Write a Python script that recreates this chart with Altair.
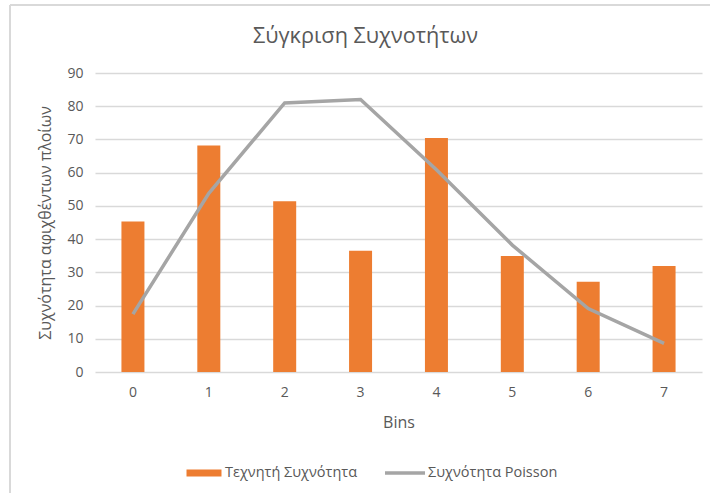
import altair as alt
import pandas as pd

# Bin labels and the two frequency series
bins = ["0", "1", "2", "3", "4", "5", "6", "7"]
artificial_freq = [45.3, 68.2, 51.4, 36.5, 70.4, 34.9, 27.2, 31.9]
poisson_freq = [17.4, 53.8, 81.0, 82.0, 60.9, 38.2, 19.1, 8.6]

SERIES_BAR = "Τεχνητή Συχνότητα"
SERIES_LINE = "Συχνότητα Poisson"

df = pd.DataFrame({
    "bin": bins,
    "artificial": artificial_freq,
    "poisson": poisson_freq,
    "s_bar": [SERIES_BAR] * len(bins),
    "s_line": [SERIES_LINE] * len(bins),
})

FONT = "Open Sans"
GREY_TEXT = "#595959"
GRID = "#D9D9D9"
ORANGE = "#ED7D31"
LINE_GREY = "#A5A5A5"

x_enc = alt.X(
    "bin:N",
    sort=bins,
    title="Bins",
    scale=alt.Scale(paddingInner=0.7, paddingOuter=0.35),
    axis=alt.Axis(labelAngle=0, ticks=False, domain=False, labelPadding=13,
                  titlePadding=15),
)
y_scale = alt.Scale(domain=[0, 90], nice=False)
y_axis = alt.Axis(values=list(range(0, 91, 10)), ticks=False, domain=False,
                  labelPadding=12, titlePadding=13, grid=True)
Y_TITLE = "Συχνότητα αφιχθέντων πλοίων"

bars = alt.Chart(df).mark_bar(size=23).encode(
    x=x_enc,
    y=alt.Y("artificial:Q", scale=y_scale, title=Y_TITLE, axis=y_axis),
    fill=alt.Fill(
        "s_bar:N",
        scale=alt.Scale(domain=[SERIES_BAR], range=[ORANGE]),
        legend=alt.Legend(
            title=None, orient="none", legendX=97, legendY=388,
            symbolType="M-1.5,-0.3H1.5V0.3H-1.5Z", symbolSize=544,
            symbolStrokeWidth=0, symbolOpacity=1,
            labelOffset=9,
        ),
    ),
)

line = alt.Chart(df).mark_line(strokeWidth=3.5).encode(
    x=alt.X("bin:N", sort=bins),
    y=alt.Y("poisson:Q", scale=y_scale, title=Y_TITLE, axis=y_axis),
    stroke=alt.Stroke(
        "s_line:N",
        scale=alt.Scale(domain=[SERIES_LINE], range=[LINE_GREY]),
        legend=alt.Legend(
            title=None, orient="none", legendX=288, legendY=378,
            symbolType="M-1,0H1", symbolSize=1600, symbolStrokeWidth=3.5,
            labelOffset=1,
        ),
    ),
)

# Light frame around the whole chart
frame = alt.Chart(alt.Data(values=[{}]))
frame_top = frame.mark_rule(color=GRID, strokeWidth=2).encode(
    x=alt.value(-85), x2=alt.value(620), y=alt.value(-68)
)
frame_left = frame.mark_rule(color=GRID, strokeWidth=2).encode(
    x=alt.value(-85), y=alt.value(-68), y2=alt.value(430)
)

chart = alt.layer(frame_top, frame_left, bars, line).resolve_scale(
    fill="independent", stroke="independent"
).properties(
    width=607,
    height=299,
    background="white",
    autosize=alt.AutoSizeParams(type="none"),
    padding={"left": 95, "top": 73, "right": 8, "bottom": 121},
    title=alt.Title(
        "Σύγκριση Συχνοτήτων", anchor="middle", dx=-33, offset=-44,
        fontSize=21.7, font=FONT, fontWeight="normal", color=GREY_TEXT,
    ),
).configure_view(
    stroke=None
).configure_axis(
    labelFont=FONT, labelFontSize=14, labelColor=GREY_TEXT,
    titleFont=FONT, titleFontSize=16, titleColor=GREY_TEXT,
    titleFontWeight="normal", gridColor=GRID, gridWidth=1.3,
).configure_legend(
    labelFont=FONT, labelFontSize=14.5, labelColor=GREY_TEXT,
    direction="horizontal",
)

chart.save("out.html", embed_options={"renderer": "svg", "actions": False})
